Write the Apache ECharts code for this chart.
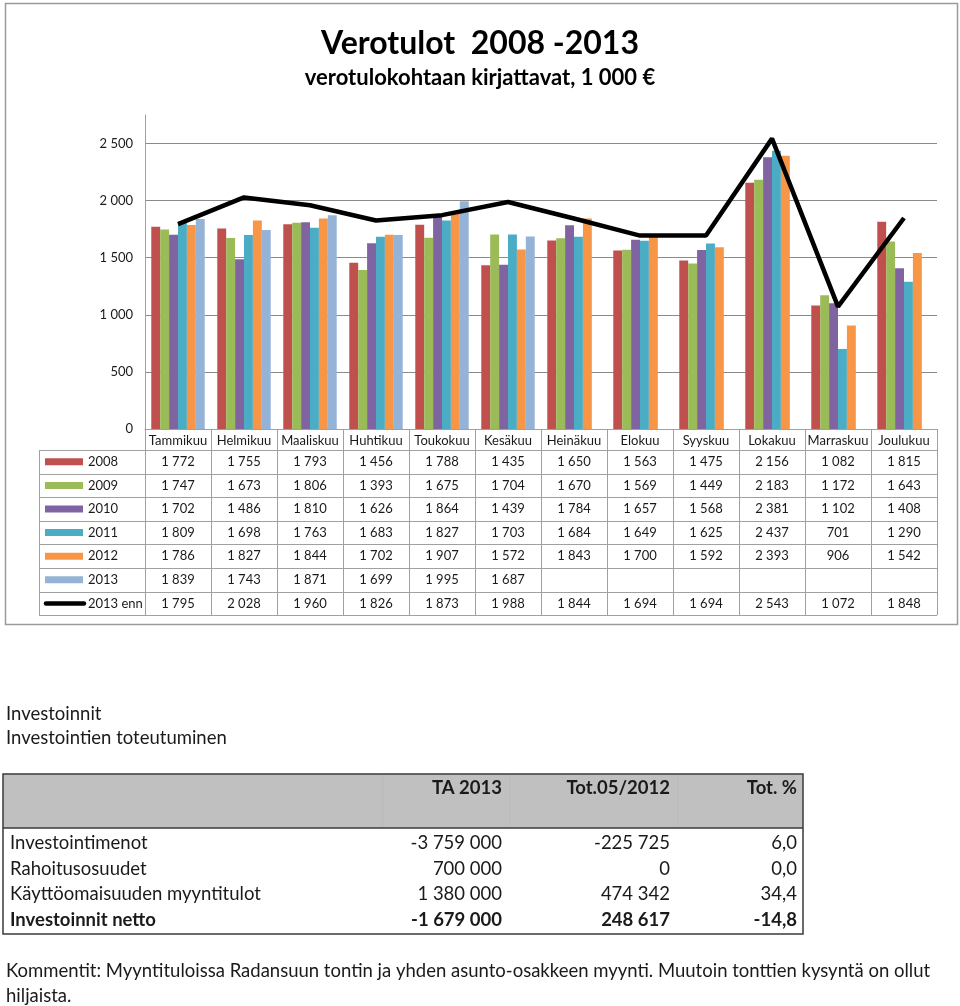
<!DOCTYPE html>
<html>
<head>
<meta charset="utf-8">
<title>Verotulot 2008 -2013</title>
<script src="https://cdn.jsdelivr.net/npm/echarts@6/dist/echarts.min.js"></script>
<style>
  html, body { margin: 0; padding: 0; background: #fff; }
  #main { width: 960px; height: 1006px; }
</style>
</head>
<body>
<div id="main"></div>
<script>
// kuukaudet ja vuodet
const months = ['Tammikuu', 'Helmikuu', 'Maaliskuu', 'Huhtikuu', 'Toukokuu', 'Kesäkuu',
  'Heinäkuu', 'Elokuu', 'Syyskuu', 'Lokakuu', 'Marraskuu', 'Joulukuu']
const years = ['2008', '2009', '2010', '2011', '2012', '2013']

// verotulot kuukausittain, 1 000 €
const v2008 = [1772, 1755, 1793, 1456, 1788, 1435, 1650, 1563, 1475, 2156, 1082, 1815]
const v2009 = [1747, 1673, 1806, 1393, 1675, 1704, 1670, 1569, 1449, 2183, 1172, 1643]
const v2010 = [1702, 1486, 1810, 1626, 1864, 1439, 1784, 1657, 1568, 2381, 1102, 1408]
const v2011 = [1809, 1698, 1763, 1683, 1827, 1703, 1684, 1649, 1625, 2437, 701, 1290]
const v2012 = [1786, 1827, 1844, 1702, 1907, 1572, 1843, 1700, 1592, 2393, 906, 1542]
const v2013 = [1839, 1743, 1871, 1699, 1995, 1687, null, null, null, null, null, null]
const forecastName = '2013 enn'
const forecast = [1795, 2028, 1960, 1826, 1873, 1988, 1844, 1694, 1694, 2543, 1072, 1848]
const yTicks = [0, 500, 1000, 1500, 2000, 2500]

// investointitaulukko
const invRows = ['Investointimenot', 'Rahoitusosuudet', 'Käyttöomaisuuden myyntitulot', 'Investoinnit netto']
const invHeaders = ['TA 2013', 'Tot.05/2012', 'Tot. %']
const ta2013 = [-3759000, 700000, 1380000, -1679000]
const tot052012 = [-225725, 0, 474342, 248617]
const totPct = [6.0, 0.0, 34.4, -14.8]

const yearValues = [v2008, v2009, v2010, v2011, v2012, v2013]
const yearColors = ['#C0504D', '#9BBB59', '#8064A2', '#4BACC6', '#F79646', '#95B3D7']

const FONT = 'Lato, "Open Sans", sans-serif'
const TXT = '#1a1a1a'
const GRID_LEFT = 145
const GRID_RIGHT = 937
const AXIS_Y = 429
const ROW_TOP = 450
const ROW_H = 23.6
const LINE_CLR = '#a0a0a0'

const fmt = v => (v === null || v === undefined) ? '' : String(v).replace(/\B(?=(\d{3})+(?!\d))/g, ' ')
const fmtPct = v => v.toFixed(1).replace('.', ',')

const chart = echarts.init(document.getElementById('main'), null, { renderer: 'canvas' })

// datataulukko kaavion alle
const buildDataTable = () => {
  const els = []
  const cellW = (GRID_RIGHT - GRID_LEFT) / months.length
  const rows = years.map((y, i) => ({ name: y, values: yearValues[i], color: yearColors[i], line: false }))
  rows.push({ name: forecastName, values: forecast, color: '#000', line: true })
  const bottom = ROW_TOP + ROW_H * rows.length

  // vaakaviivat
  for (let k = 0; k <= rows.length; k++) {
    const y = Math.round(ROW_TOP + k * ROW_H) + 0.5
    els.push({ type: 'line', shape: { x1: 39, y1: y, x2: GRID_RIGHT, y2: y }, style: { stroke: LINE_CLR, lineWidth: 1 } })
  }
  // pystyviivat
  els.push({ type: 'line', shape: { x1: 39.5, y1: ROW_TOP, x2: 39.5, y2: bottom }, style: { stroke: LINE_CLR, lineWidth: 1 } })
  for (let i = 0; i <= months.length; i++) {
    const x = Math.round(GRID_LEFT + i * cellW) + 0.5
    els.push({ type: 'line', shape: { x1: x, y1: AXIS_Y, x2: x, y2: bottom }, style: { stroke: LINE_CLR, lineWidth: 1 } })
  }
  // selitteet ja arvot
  rows.forEach((r, k) => {
    const cy = ROW_TOP + k * ROW_H + ROW_H / 2
    if (r.line) {
      els.push({ type: 'line', shape: { x1: 46, y1: cy, x2: 84, y2: cy }, style: { stroke: '#000', lineWidth: 4.5, lineCap: 'round' } })
    } else {
      els.push({ type: 'rect', shape: { x: 45, y: cy - 3.5, width: 38, height: 7 }, style: { fill: r.color } })
    }
    els.push({ type: 'text', x: 88, y: cy, style: { text: r.name, font: '13px ' + FONT, fill: TXT, verticalAlign: 'middle' } })
    r.values.forEach((v, i) => {
      els.push({
        type: 'text', x: GRID_LEFT + i * cellW + cellW / 2, y: cy,
        style: { text: fmt(v), font: '13px ' + FONT, fill: TXT, align: 'center', verticalAlign: 'middle' }
      })
    })
  })
  return els
}

// investointiosio
const buildInvestments = () => {
  const els = []
  const f18 = '18.5px ' + FONT
  const b18 = 'bold 18.5px ' + FONT
  els.push({ type: 'text', x: 6, y: 714, style: { text: 'Investoinnit', font: f18, fill: TXT, verticalAlign: 'middle' } })
  els.push({ type: 'text', x: 6, y: 738, style: { text: 'Investointien toteutuminen', font: f18, fill: TXT, verticalAlign: 'middle' } })

  els.push({ type: 'rect', shape: { x: 3, y: 774, width: 800, height: 54 }, style: { fill: '#C0C0C0' } })
  els.push({ type: 'rect', shape: { x: 3, y: 774, width: 800, height: 160 }, style: { fill: 'none', stroke: '#3a3a3a', lineWidth: 1.5 } })
  els.push({ type: 'line', shape: { x1: 3, y1: 828, x2: 803, y2: 828 }, style: { stroke: '#3a3a3a', lineWidth: 1.5 } })
  ;[383, 510, 678].forEach(x => {
    els.push({ type: 'line', shape: { x1: x, y1: 775, x2: x, y2: 827 }, style: { stroke: '#bababa', lineWidth: 1 } })
  })

  const colRight = [502, 670, 797]
  invHeaders.forEach((h, j) => {
    els.push({ type: 'text', x: colRight[j], y: 788, style: { text: h, font: b18, fill: TXT, align: 'right', verticalAlign: 'middle' } })
  })
  const rowY = [843, 869, 894, 920]
  invRows.forEach((name, i) => {
    const font = i === invRows.length - 1 ? b18 : f18
    els.push({ type: 'text', x: 10, y: rowY[i], style: { text: name, font, fill: TXT, verticalAlign: 'middle' } })
    const vals = [fmt(ta2013[i]), fmt(tot052012[i]), fmtPct(totPct[i])]
    vals.forEach((t, j) => {
      els.push({ type: 'text', x: colRight[j], y: rowY[i], style: { text: t, font, fill: TXT, align: 'right', verticalAlign: 'middle' } })
    })
  })

  els.push({ type: 'text', x: 6, y: 971, style: { text: 'Kommentit: Myyntituloissa Radansuun tontin ja yhden asunto-osakkeen myynti. Muutoin tonttien kysyntä on ollut', font: f18, fill: TXT, verticalAlign: 'middle' } })
  els.push({ type: 'text', x: 6, y: 996, style: { text: 'hiljaista.', font: f18, fill: TXT, verticalAlign: 'middle' } })
  return els
}

const barSeries = years.map((y, i) => ({
  name: y,
  type: 'bar',
  data: yearValues[i],
  barGap: '0%',
  barCategoryGap: '19%',
  itemStyle: { color: yearColors[i] },
  z: 2
}))

const option = {
  backgroundColor: '#fff',
  animation: false,
  textStyle: { fontFamily: FONT },
  title: {
    text: 'Verotulot \u00a02008 -2013',
    subtext: 'verotulokohtaan kirjattavat, 1 000 €',
    left: 'center',
    top: 23,
    itemGap: 7,
    textStyle: { fontFamily: FONT, fontSize: 32, fontWeight: 'bold', color: '#000' },
    subtextStyle: { fontFamily: FONT, fontSize: 22, fontWeight: 'bold', color: '#000' }
  },
  grid: { left: GRID_LEFT, right: 960 - GRID_RIGHT, top: 115, bottom: 1006 - AXIS_Y },
  xAxis: {
    type: 'category',
    data: months,
    axisLine: { lineStyle: { color: LINE_CLR, width: 1 } },
    axisTick: { show: false },
    axisLabel: { interval: 0, margin: 5, fontSize: 13, color: TXT, fontFamily: FONT }
  },
  yAxis: {
    type: 'value',
    min: 0,
    max: 2750,
    interval: 500,
    axisLine: { show: true, lineStyle: { color: LINE_CLR, width: 1 } },
    axisTick: { show: false },
    splitLine: { showMaxLine: false, lineStyle: { color: '#8a8a8a', width: 1 } },
    axisLabel: {
      margin: 12, fontSize: 13, color: TXT, fontFamily: FONT, showMaxLabel: false,
      formatter: v => yTicks.includes(v) ? fmt(v) : ''
    }
  },
  series: [
    ...barSeries,
    {
      name: forecastName,
      type: 'line',
      data: forecast,
      symbol: 'none',
      lineStyle: { color: '#000', width: 4.5 },
      z: 5
    }
  ],
  graphic: [
    { type: 'rect', shape: { x: 5.5, y: 3.5, width: 952, height: 621 }, style: { fill: 'none', stroke: '#9a9a9a', lineWidth: 1.5 }, silent: true },
    ...buildDataTable(),
    ...buildInvestments()
  ]
}

chart.setOption(option)
</script>
</body>
</html>
